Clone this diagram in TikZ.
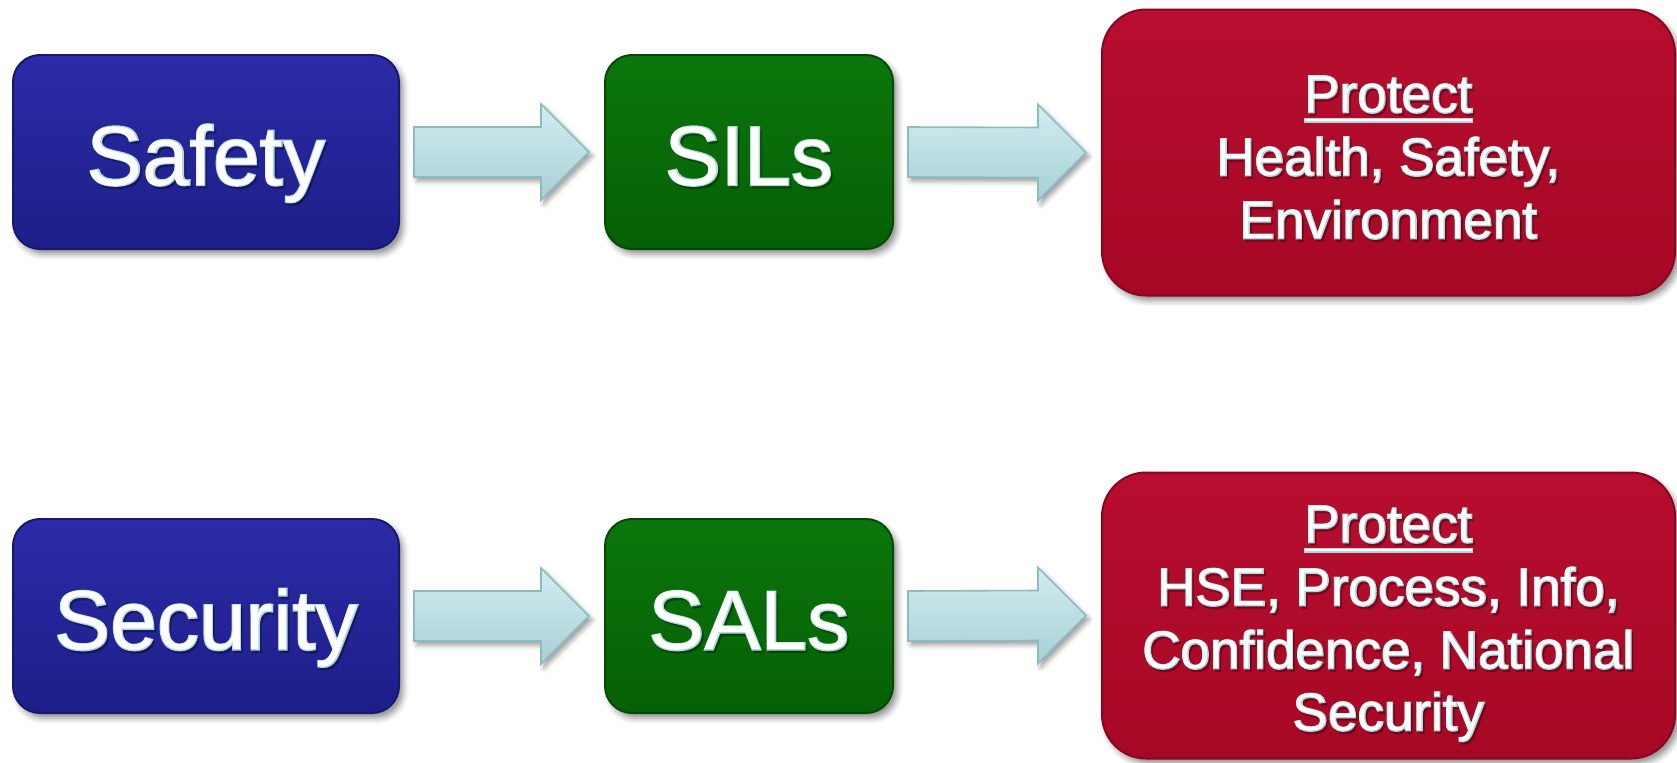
\documentclass[tikz,border=0pt]{standalone}
\usepackage{fontspec}
\setmainfont{Liberation Sans}
\newfontfamily\fatbig[FakeBold=2.4]{Liberation Sans}
\newfontfamily\fatsmall[FakeBold=3.2]{Liberation Sans}
\usetikzlibrary{calc,shadows.blur}
\definecolor{BlueTop}{HTML}{2B2BA8}
\definecolor{BlueBot}{HTML}{1E1E88}
\definecolor{BlueEdge}{HTML}{18186E}
\definecolor{GreenTop}{HTML}{0B760B}
\definecolor{GreenBot}{HTML}{056005}
\definecolor{GreenEdge}{HTML}{044A04}
\definecolor{RedTop}{HTML}{B80E30}
\definecolor{RedBot}{HTML}{A60824}
\definecolor{RedEdge}{HTML}{8A0420}
\definecolor{ArrTop}{HTML}{D2EDF0}
\definecolor{ArrBot}{HTML}{A6D0D5}
\definecolor{ArrEdge}{HTML}{8CBCC1}
\definecolor{TxtLine}{HTML}{B2D8DC}
\tikzset{
  boxbase/.style={inner sep=0pt, draw, line width=1pt,
    blur shadow={shadow xshift=2pt, shadow yshift=-2.5pt, shadow blur radius=3pt, shadow opacity=45}},
  bluebox/.style={boxbase, minimum width=193pt, minimum height=97pt, rounded corners=13.5pt,
    top color=BlueTop, bottom color=BlueBot, draw=BlueEdge},
  greenbox/.style={boxbase, minimum width=144pt, minimum height=97pt, rounded corners=13.5pt,
    top color=GreenTop, bottom color=GreenBot, draw=GreenEdge},
  redbox/.style={boxbase, minimum width=286.5pt, minimum height=143pt, rounded corners=22pt,
    top color=RedTop, bottom color=RedBot, draw=RedEdge},
  blockarrow/.style={line width=0.8pt, draw=ArrEdge, top color=ArrTop, bottom color=ArrBot,
    blur shadow={shadow xshift=1.5pt, shadow yshift=-2pt, shadow blur radius=2.5pt, shadow opacity=40}},
  txtbase/.style={inner sep=0pt, anchor=base},
  txtshadow/.style={txtbase, text=black, text opacity=0.22},
  txtoutline/.style={txtbase, text=TxtLine},
  txtfill/.style={txtbase, text=white},
  ulstyle/.style={fill=white, draw=TxtLine, line width=0.6pt},
}
% #1 name, #2 position, #3 size, #4 outline font, #5 text
\newcommand\glowtext[5]{%
  \coordinate (#1b) at (#2);
  \node[txtshadow, font=#4\fontsize{#3}{#3}\selectfont] (#1s) at ([xshift=1pt,yshift=-1.3pt]#1b) {#5};
  \node[txtoutline, font=#4\fontsize{#3}{#3}\selectfont] (#1o) at (#1b) {#5};
  \node[txtfill, font=\fontsize{#3}{#3}\selectfont] (#1) at (#1b) {#5};
}
\newcommand\blockarrow[2]{%
  \coordinate (#1s#2) at ([xshift=7pt]#1.east);
  \coordinate (#1t#2) at ([xshift=-7.5pt]#2.west);
  \path[blockarrow] ($(#1s#2)+(0,-25)$) -- ($(#1t#2)+(-48,-25)$) -- ($(#1t#2)+(-48,-48)$)
    -- (#1t#2) -- ($(#1t#2)+(-48,48)$) -- ($(#1t#2)+(-48,25)$) -- ($(#1s#2)+(0,25)$) -- cycle;
}
\begin{document}
\begin{tikzpicture}[x=0.5pt,y=-0.5pt]
\useasboundingbox (0,0) rectangle (1677,762);
% boxes
\node[bluebox] (safety) at (206,152) {};
\node[greenbox] (sils) at (749,152) {};
\node[redbox] (prot1) at (1388.5,152.5) {};
\node[bluebox] (security) at (206,616) {};
\node[greenbox] (sals) at (749,616) {};
\node[redbox] (prot2) at (1388.5,615.5) {};
% arrows
\blockarrow{safety}{sils}
\blockarrow{sils}{prot1}
\blockarrow{security}{sals}
\blockarrow{sals}{prot2}
% texts
\glowtext{safetyT}{$(safety.center)+(0,33)$}{42}{\fatbig}{Safety}
\glowtext{silsT}{$(sils.center)+(0,33)$}{42}{\fatbig}{SILs}
\glowtext{securityT}{$(security.center)+(0,33.5)$}{42}{\fatbig}{Security}
\glowtext{salsT}{$(sals.center)+(0,33.5)$}{42}{\fatbig}{SALs}
\glowtext{pa}{$(prot1.center)+(0,-40)$}{26.5}{\fatsmall}{Protect}
\draw[ulstyle] ($(pa.base west)+(0,6)$) rectangle ($(pa.base east)+(0,9.5)$);
\glowtext{pb}{$(prot1.center)+(0,23)$}{26.5}{\fatsmall}{Health, Safety,}
\glowtext{pc}{$(prot1.center)+(0,86)$}{26.5}{\fatsmall}{Environment}
\glowtext{qa}{$(prot2.center)+(0,-73)$}{26.5}{\fatsmall}{Protect}
\draw[ulstyle] ($(qa.base west)+(0,6)$) rectangle ($(qa.base east)+(0,9.5)$);
\glowtext{qb}{$(prot2.center)+(0,-10)$}{26.5}{\fatsmall}{HSE, Process, Info,}
\glowtext{qc}{$(prot2.center)+(0,53)$}{26.5}{\fatsmall}{Confidence, National}
\glowtext{qd}{$(prot2.center)+(0,115)$}{26.5}{\fatsmall}{Security}
\end{tikzpicture}
\end{document}
